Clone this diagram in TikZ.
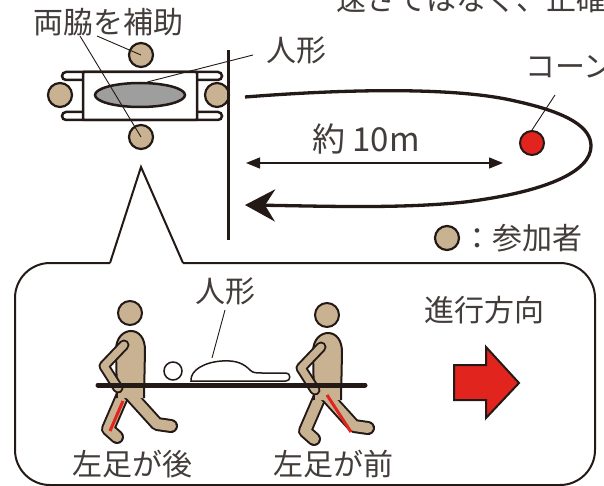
\documentclass[tikz,border=0pt]{standalone}
\usepackage{fontspec}
\setmainfont{Noto Sans CJK JP}
\usetikzlibrary{arrows.meta,shapes.geometric}
\definecolor{ink}{RGB}{35,25,22}
\definecolor{txt}{RGB}{66,61,59}
\definecolor{skin}{RGB}{201,178,145}
\definecolor{dollgray}{RGB}{158,158,158}
\definecolor{mark}{RGB}{226,36,30}
\tikzset{
  lbl/.style={inner sep=0pt,text=txt,font=\fontsize{30}{34}\selectfont},
  person/.style={circle,draw=ink,fill=skin,line width=2.2pt,minimum size=24pt,inner sep=0pt},
  leader/.style={draw=ink,line width=0.9pt},
  bar/.style={draw=ink,fill=white,line width=2.5pt,rounded corners=4pt},
  limb/.style={draw=ink,line width=2pt,double=skin,line cap=round,line join=round},
  legmark/.style={draw=mark,line width=3pt},
  walker/.pic={
    % back leg, front leg
    \draw[limb,double distance=10pt] (124,392) -- (108,429) -- (117,437);
    \draw[limb,double distance=10pt] (128,392) -- (157,424) -- (171,426);
    % torso
    \fill[skin] (117,398) -- (116,350) .. controls (116,337) and (124,331) .. (131,331)
      .. controls (139,331) and (145,338) .. (145,350) -- (144,398) -- cycle;
    \draw[ink,line width=2pt] (117,398) -- (116,350) .. controls (116,337) and (124,331) .. (131,331)
      .. controls (139,331) and (145,338) .. (145,350) -- (144,398);
    % arm
    \draw[limb,double distance=7pt] (124,345) -- (104,366) -- (118,388);
    % head
    \node[person,line width=2pt] (-head) at (130,313) {};
  }
}
\begin{document}
\begin{tikzpicture}[x=1pt,y=-1pt]
\clip (0,0) rectangle (604,486);
\fill[white] (0,0) rectangle (604,486);

% ---- top view: stretcher carried by four people ----
\draw[bar] (62,72) rectangle (222,80);
\draw[bar] (62,112) rectangle (222,120);
\draw[bar,rounded corners=1pt] (83,72) rectangle (197,120);
\node[ellipse,draw=ink,fill=dollgray,line width=2.5pt,minimum width=90pt,minimum height=24pt,inner sep=0pt] (doll) at (140,95) {};
\node[person] (ptop) at (141,55) {};
\node[person] (pbottom) at (141,137) {};
\node[person] (pleft) at (60,95) {};
\node[person] (pright) at (217,95) {};

\node[lbl] (sides) at (108,22) {両脇を補助};
\coordinate (sideA) at (97,36);
\coordinate (sideB) at (80,36);
\draw[leader] (sideA) -- (ptop.center);
\draw[leader] (sideB) -- (pbottom.center);

\node[lbl] (dolllabel) at (296,50) {人形};
\coordinate (dollleader) at (253,55);
\draw[leader] (dollleader) -- (doll.60);

% start line
\coordinate (walltop) at (228,50);
\coordinate (wallbot) at (228,240);
\draw[ink,line width=3pt] (walltop) -- (wallbot);

% course round the cone
\node[circle,draw=ink,fill=mark,line width=2pt,minimum size=24pt,inner sep=0pt] (cone) at (532,143) {};
\node[lbl,anchor=west] (conelabel) at (525,67) {コーン};
\coordinate (coneleader) at (555,95);
\draw[leader] (coneleader) -- (cone.north);

\coordinate (loopstart) at (245,97);
\coordinate (loopend) at (245,205);
\draw[ink,line width=3.3pt,-{Stealth[length=30pt,width=32pt,inset=10pt]}]
  (loopstart) .. controls (360,88) and (460,88) .. (515,101)
  .. controls (570,113) and (591,128) .. (591,146)
  .. controls (591,172) and (545,192) .. (465,202)
  .. controls (400,209) and (320,206) .. (loopend);

\coordinate (dimL) at (246,163);
\coordinate (dimR) at (503,163);
\draw[ink,line width=1.3pt,{Triangle[length=14pt,width=11pt]}-{Triangle[length=14pt,width=11pt]}] (dimL) -- (dimR);
\node[lbl,font=\fontsize{33}{36}\selectfont] (dist) at (366,139) {約 10m};

% legend
\node[person] (legend) at (447,238) {};
\node[lbl,anchor=west] (legendtext) at (462,238) {：参加者};

% heading (runs past the top edge)
\node[lbl,anchor=base west] (heading) at (336,11) {速さではなく、正確};

% ---- side view balloon ----
\draw[ink,line width=2pt,rounded corners=35pt] (110,263) -- (15,263) -- (15,485) -- (595,485) -- (595,263) -- (183,263);
\draw[ink,line width=2pt,line join=miter] (110,263) -- (141,167) -- (183,263);

\pic (rear) at (0,0) {walker};
\pic (front) at (197,2) {walker};
\draw[legmark] (123,401) -- (110,431);
\draw[legmark] (327,395) -- (351,432);

% stretcher pole and dummy
\coordinate (poleL) at (98,385);
\coordinate (poleR) at (365,385);
\draw[ink,line width=5pt,line cap=round] (poleL) -- (poleR);
\node[circle,draw=ink,fill=white,line width=1.5pt,minimum size=18pt,inner sep=0pt] (dummyhead) at (173,371) {};
\draw[ink,fill=white,line width=1.5pt] (191,381) .. controls (190,370) and (205,362) .. (222,361)
  .. controls (237,360) and (244,364) .. (250,370) .. controls (253,373) and (256,373) .. (262,373)
  -- (286,373) .. controls (291,373) and (291,381) .. (286,381) -- cycle;
\coordinate (dummytop) at (212,358);
\node[lbl] (dummylabel) at (225,291) {人形};
\coordinate (dummyleader) at (225,310);
\draw[leader] (dummyleader) -- (dummytop);

\node[lbl] (reartext) at (132,464) {左足が後};
\node[lbl] (fronttext) at (333,464) {左足が前};

% direction of travel
\node[lbl] (dirtext) at (484,310) {進行方向};
\draw[ink,fill=mark,line width=2pt,line join=miter] (454,365) -- (486,365) -- (486,347) -- (519,383) -- (486,418) -- (486,400) -- (454,400) -- cycle;
\end{tikzpicture}
\end{document}
